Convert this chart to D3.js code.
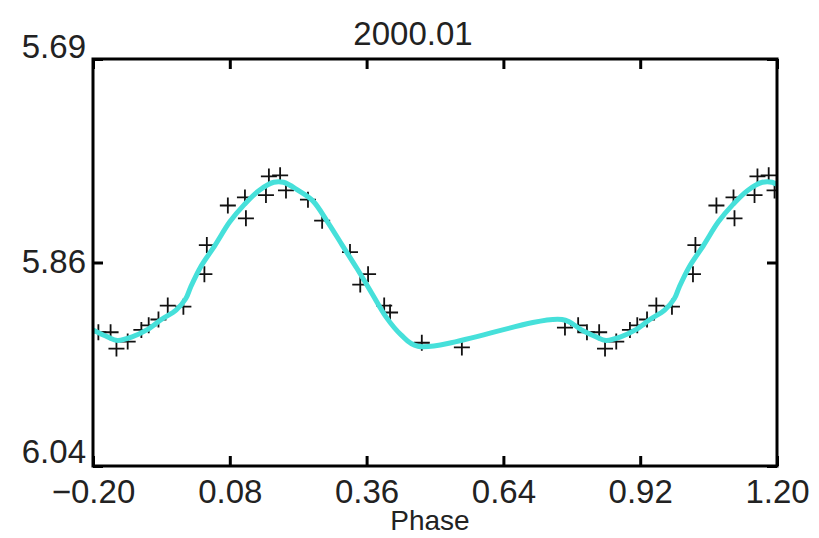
<!DOCTYPE html>
<html>
<head>
<meta charset="utf-8">
<script src="https://cdn.jsdelivr.net/npm/d3@7"></script>
<style>
  html, body { margin: 0; padding: 0; background: #ffffff; }
  svg { display: block; }
  text { font-family: "Liberation Sans", Arial, sans-serif; fill: #222; }
</style>
</head>
<body>
<svg id="chart" width="819" height="538"></svg>
<script>
// Folded light curve of epoch 2000.01: observed phases and magnitudes (one cycle)
const obsPhase = [0.028, 0.033, 0.076, 0.113, 0.111, 0.154, 0.160, 0.183, 0.195,
                  0.240, 0.269, 0.326, 0.363, 0.347, 0.396, 0.408, 0.473, 0.555,
                  0.766, 0.793, 0.811, 0.836, 0.848, 0.871, 0.899, 0.914, 0.934,
                  0.953, 0.985];
const obsMag   = [5.875, 5.850, 5.816, 5.827, 5.809, 5.807, 5.791, 5.790, 5.803,
                  5.811, 5.829, 5.856, 5.875, 5.884, 5.902, 5.908, 5.934, 5.938,
                  5.921, 5.919, 5.925, 5.925, 5.939, 5.933, 5.923, 5.919, 5.914,
                  5.902, 5.903];

// Smoothed fit over one cycle
const fitPhase = [0.000, 0.020, 0.050, 0.080, 0.110, 0.140, 0.170, 0.190, 0.220,
                  0.250, 0.280, 0.310, 0.340, 0.370, 0.400, 0.430, 0.465, 0.760,
                  0.800, 0.830, 0.850, 0.880, 0.910, 0.940, 0.970, 0.990];
const fitMag   = [5.886, 5.869, 5.850, 5.830, 5.815, 5.803, 5.796, 5.796, 5.803,
                  5.812, 5.830, 5.850, 5.870, 5.891, 5.912, 5.927, 5.937, 5.914,
                  5.923, 5.929, 5.932, 5.929, 5.923, 5.914, 5.906, 5.896];

const xTicks = [-0.20, 0.08, 0.36, 0.64, 0.92, 1.20];
const xTickLabels = ["\u22120.20", "0.08", "0.36", "0.64", "0.92", "1.20"];
const yTicks = [5.69, 5.865, 6.04];
const yTickLabels = ["5.69", "5.86", "6.04"];
const titleText = "2000.01";
const xTitle = "Phase";

const svg = d3.select("#chart");
const W = 819, H = 538;
const m = { left: 93, right: 42, top: 59, bottom: 72 };
const pw = W - m.left - m.right, ph = H - m.top - m.bottom;

const x = d3.scaleLinear().domain([-0.2, 1.2]).range([m.left, m.left + pw]);
const y = d3.scaleLinear().domain([5.69, 6.04]).range([m.top, m.top + ph]); // magnitudes grow downward

// Repeat a cycle at phase offsets -1, 0, +1 and keep what falls in the window
function fold(ph, mg) {
  const out = [];
  [-1, 0, 1].forEach(k => ph.forEach((p, i) => out.push([p + k, mg[i]])));
  return out.sort((a, b) => a[0] - b[0]);
}
const pts = fold(obsPhase, obsMag).filter(d => d[0] >= -0.2 && d[0] <= 1.2);
const fit = fold(fitPhase, fitMag);

svg.append("defs").append("clipPath").attr("id", "plotClip")
  .append("rect").attr("x", m.left).attr("y", m.top).attr("width", pw).attr("height", ph);

// Observations as plus signs
const s = 8;
const g = svg.append("g").attr("clip-path", "url(#plotClip)");
g.selectAll("path.obs").data(pts).join("path")
  .attr("class", "obs")
  .attr("d", d => {
    const cx = x(d[0]), cy = y(d[1]);
    return `M${cx - s},${cy}H${cx + s}M${cx},${cy - s}V${cy + s}`;
  })
  .attr("stroke", "#111").attr("stroke-width", 1.8).attr("fill", "none");

// Fitted curve
g.append("path").datum(fit)
  .attr("d", d3.line().x(d => x(d[0])).y(d => y(d[1])).curve(d3.curveCatmullRom.alpha(0.5)))
  .attr("fill", "none").attr("stroke", "#46e0da").attr("stroke-width", 5)
  .attr("stroke-linejoin", "round");

// Axes with inward ticks on all four sides
const tl = 10;
svg.append("g").attr("transform", `translate(0,${m.top + ph})`)
  .call(d3.axisBottom(x).tickValues(xTicks).tickSize(-tl).tickPadding(14)
    .tickFormat((d, i) => xTickLabels[i]))
  .call(a => a.select(".domain").remove())
  .call(a => a.selectAll("text").attr("font-size", 33).attr("dy", "0.71em"));
svg.append("g").attr("transform", `translate(0,${m.top})`)
  .call(d3.axisTop(x).tickValues(xTicks).tickSize(-tl).tickFormat(""))
  .call(a => a.select(".domain").remove());
const yOff = [-12, -1, -14];
svg.append("g").attr("transform", `translate(${m.left},0)`)
  .call(d3.axisLeft(y).tickValues(yTicks).tickSize(-tl).tickPadding(7)
    .tickFormat((d, i) => yTickLabels[i]))
  .call(a => a.select(".domain").remove())
  .call(a => a.selectAll("text").attr("font-size", 33)
    .attr("transform", (d, i) => `translate(0,${yOff[i]})`));
svg.append("g").attr("transform", `translate(${m.left + pw},0)`)
  .call(d3.axisRight(y).tickValues(yTicks).tickSize(-tl).tickFormat(""))
  .call(a => a.select(".domain").remove());
svg.selectAll(".tick line").attr("stroke", "#000").attr("stroke-width", 3);

// Plot frame
svg.append("rect").attr("x", m.left).attr("y", m.top).attr("width", pw).attr("height", ph)
  .attr("fill", "none").attr("stroke", "#000").attr("stroke-width", 3);

svg.append("text").attr("x", 413).attr("y", 45).attr("text-anchor", "middle")
  .attr("font-size", 33).text(titleText);
svg.append("text").attr("x", 430).attr("y", 530).attr("text-anchor", "middle")
  .attr("font-size", 28).text(xTitle);
</script>
</body>
</html>
